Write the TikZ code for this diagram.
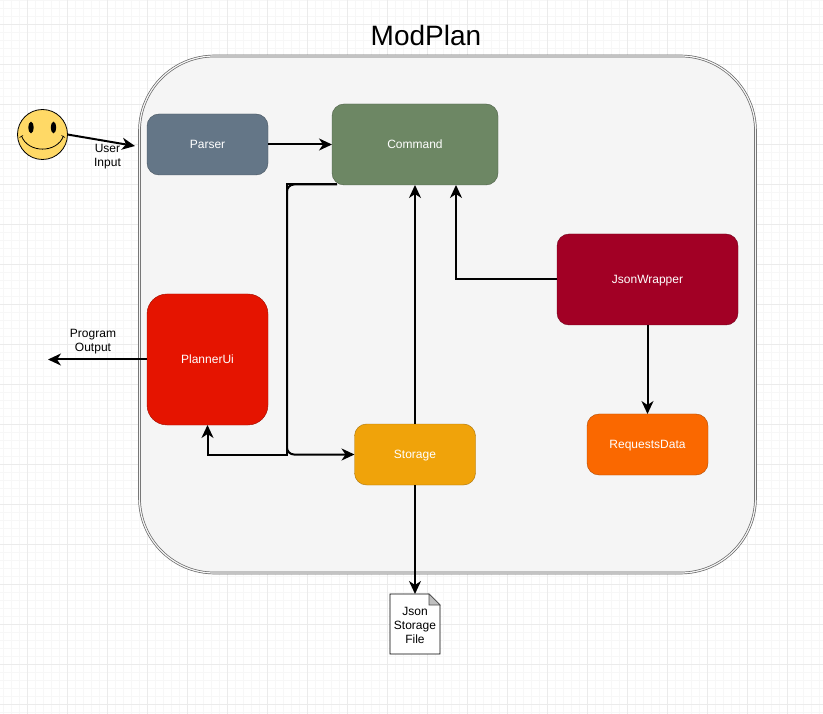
\documentclass[tikz,border=0pt]{standalone}
\usepackage{fontspec}
\setmainfont{Liberation Sans}
\usetikzlibrary{arrows.meta, positioning}

\begin{document}
\begin{tikzpicture}[
    x=1pt, y=-1pt,
    block/.style={rectangle, draw=#1!70!black, fill=#1, rounded corners=12pt, outer sep=0pt, align=center, text=white, text height=8.6pt, text depth=0pt, font=\fontsize{12}{14}\selectfont},
    label/.style={align=center, font=\fontsize{12}{14}\selectfont},
    line/.style={draw, -{Stealth[length=13pt, width=12pt, inset=4pt]}, line width=2pt}
]

\useasboundingbox (0,0) rectangle (823,714);

% Background Grid
\fill[white] (0,0) rectangle (823,714);
\foreach \x in {3,11,...,819} \draw[black!3, line width=0.7pt] (\x,0) -- (\x,714);
\foreach \y in {0,8,...,712} \draw[black!3, line width=0.7pt] (0,\y) -- (823,\y);
\foreach \x in {27,67,...,819} \draw[black!8, line width=0.9pt] (\x,0) -- (\x,714);
\foreach \y in {24,64,...,704} \draw[black!8, line width=0.9pt] (0,\y) -- (823,\y);

% Outer Box
\node[draw=black!60, fill=black!4, double=black!4, double distance=1.2pt, line width=0.7pt, rounded corners=75pt, minimum width=616pt, minimum height=517pt, outer sep=0pt] (modplan) at (447.5,314.5) {};
\node[font=\fontsize{28}{32}\selectfont] (title) at (426,35) {ModPlan};

% Inner Blocks
\definecolor{parsercol}{HTML}{647687}
\definecolor{commandcol}{HTML}{6D8764}
\definecolor{jsoncol}{HTML}{A20025}
\definecolor{plannercol}{HTML}{E51400}
\definecolor{storagecol}{HTML}{F0A30A}
\definecolor{requestscol}{HTML}{FA6800}
\definecolor{smileycol}{HTML}{FFD966}

\node[block=commandcol, minimum width=166pt, minimum height=81pt] (command) at (415,144.5) {Command};
\node[block=parsercol, minimum width=121pt, minimum height=61pt, left=64pt of command] (parser) {Parser};
\node[block=jsoncol, minimum width=181pt, minimum height=91pt] (json) at (647.5,279.5) {JsonWrapper};
\node[block=requestscol, minimum width=121pt, minimum height=61pt, below=89pt of json] (requests) {RequestsData};
\node[block=plannercol, rounded corners=20pt, minimum width=121pt, minimum height=131pt] (planner) at (207.5,359.5) {PlannerUi};
\node[block=storagecol, minimum width=121pt, minimum height=61pt] (storage) at (415,454.5) {Storage};

% Smiley
\node[circle, draw, fill=smileycol, minimum size=50pt, inner sep=0pt, outer sep=0pt, line width=0.8pt] (smiley) at (42.5,134.5) {};
\fill (31,127.5) ellipse (2.6pt and 5.8pt);
\fill (53.5,127.5) ellipse (2.6pt and 5.8pt);
\draw[line width=0.8pt] (21.5,136) .. controls (28,153.5) and (57,153.5) .. (63.5,136);
\draw[line width=0.6pt] (19.5,137.5) -- (23,135.5) (61.5,135.5) -- (65,137.5);

% Json File
\node[minimum width=50pt, minimum height=60pt, inner sep=0pt, outer sep=0pt, below=109pt of storage] (file) {};
\draw[fill=white, line width=0.9pt] (file.north west) -- ([xshift=-11pt]file.north east) -- ([yshift=-11pt]file.north east) -- (file.south east) -- (file.south west) -- cycle;
\draw[fill=black!25, draw=black!70, line width=0.6pt] ([xshift=-11pt]file.north east) -- ([xshift=-11pt, yshift=-11pt]file.north east) -- ([yshift=-11pt]file.north east) -- cycle;
\node[label, yshift=-1pt] (filelabel) at (file.center) {Json\\Storage\\File};

% Free Ends
\coordinate (userend) at (135,146);
\coordinate (outputend) at (48,359.5);
\coordinate (cmdstart) at (337,184.5);
\coordinate (turn) at (287,184.5);
\coordinate (join) at (turn |- storage.west);

% Connections
\path [line] (smiley.east) -- (userend);
\path [line] (parser.east |- command.west) -- (command.west);
\path [line] (planner.west) -- (outputend);
\path [line] (storage.north) -- (command.south);
\path [line] (json.west) -| ([xshift=41pt]command.south);
\path [line] (json.south) -- (requests.north);
\path [line] (storage.south) -- (file.north);
\path [line] (cmdstart) -- (turn) -- (join) -| (planner.south);
\path [line, rounded corners=7pt] (cmdstart) -- (turn) -- (join) -- (storage.west);

% Labels
\node[label] (userlabel) at (107.5,157) {User\\Input};
\node[label] (outputlabel) at (93,342) {Program\\Output};

\end{tikzpicture}
\end{document}
